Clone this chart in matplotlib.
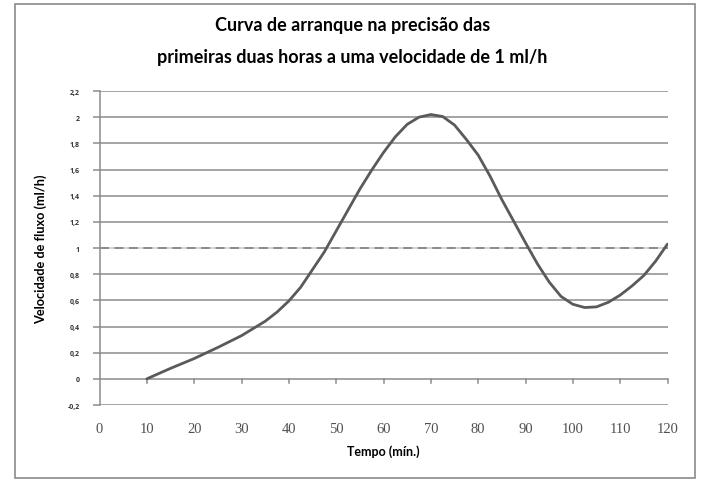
import matplotlib
matplotlib.use("Agg")
import matplotlib.pyplot as plt
from matplotlib.patches import Rectangle

# data
tempo = [10, 15, 20, 25, 30, 35, 37.5, 40, 42.5, 45, 47.5, 50, 52.5, 55, 57.5, 60, 62.5,
         65, 67.5, 70, 72.5, 75, 77.5, 80, 82.5, 85, 87.5, 90, 92.5, 95, 97.5,
         100, 102.5, 105, 107.5, 110, 112.5, 115, 117.5, 120]
velocidade = [0.0, 0.08, 0.155, 0.24, 0.33, 0.44, 0.51, 0.595, 0.70, 0.835, 0.97, 1.13, 1.29, 1.45, 1.595, 1.73, 1.85,
              1.945, 2.0, 2.02, 2.005, 1.94, 1.83, 1.71, 1.55, 1.37, 1.205, 1.04, 0.88, 0.74, 0.63,
              0.57, 0.545, 0.55, 0.585, 0.64, 0.71, 0.79, 0.90, 1.03]
alvo = 1.0
x_ticks = list(range(0, 121, 10))
y_ticks = [-0.2, 0, 0.2, 0.4, 0.6, 0.8, 1, 1.2, 1.4, 1.6, 1.8, 2, 2.2]
y_labels = ["-0,2", "0", "0,2", "0,4", "0,6", "0,8", "1", "1,2", "1,4", "1,6", "1,8", "2", "2,2"]

fig = plt.figure(figsize=(7.05, 4.81), dpi=100)
fig.patches.append(Rectangle((15 / 705, 2 / 481), 680 / 705, 474 / 481, transform=fig.transFigure,
                             fill=False, edgecolor="#8a8a8a", linewidth=1.2))

ax = fig.add_axes([99.5 / 705, 1 - 406 / 481, 568 / 705, 314 / 481])
ax.set_xlim(0, 120)
ax.set_ylim(-0.2, 2.2)

for y in y_ticks:
    if y == alvo:
        ax.axhline(y, color="#c8c8c8", linewidth=1.1, zorder=1)
    else:
        ax.axhline(y, color="#8c8c8c", linewidth=1.1, zorder=1)
ax.axhline(alvo, color="#858585", linewidth=1.3, linestyle=(0, (5, 3)), zorder=2)

ax.plot(tempo, velocidade, color="#5a5a5a", linewidth=2.0, zorder=3,
        solid_joinstyle="round", solid_capstyle="round")

for s in ["top", "right", "bottom"]:
    ax.spines[s].set_visible(False)
ax.spines["left"].set_color("#8c8c8c")
ax.spines["left"].set_linewidth(1.1)

ax.set_yticks(y_ticks)
ax.set_yticklabels(y_labels, fontsize=5, fontweight="bold", color="#333333", family="Open Sans")
ax.tick_params(axis="y", length=5, color="#8c8c8c", width=1.1, pad=9)

# x ticks drawn on the y=0 line, labels at the bottom
ax.set_xticks(x_ticks)
ax.set_xticklabels([str(t) for t in x_ticks], fontsize=10.5, color="#505050", family="Liberation Serif")
ax.tick_params(axis="x", length=0, pad=12)
for t in x_ticks[1:]:
    ax.plot([t, t], [0, -0.03], color="#8c8c8c", linewidth=1.1, zorder=1, clip_on=False)

ax.set_xlabel("Tempo (mín.)", fontsize=9, fontweight="bold", family="Lato", labelpad=7)
ax.set_ylabel("Velocidade de fluxo (ml/h)", fontsize=9.2, fontweight="bold", family="Lato", labelpad=15)

fig.text(0.5, 1 - 25 / 481, "Curva de arranque na precisão das", ha="center", va="center",
         fontsize=13, fontweight="bold", family="Lato")
fig.text(0.5, 1 - 58 / 481, "primeiras duas horas a uma velocidade de 1 ml/h", ha="center", va="center",
         fontsize=13, fontweight="bold", family="Lato")

fig.savefig("out.png", dpi=100)
